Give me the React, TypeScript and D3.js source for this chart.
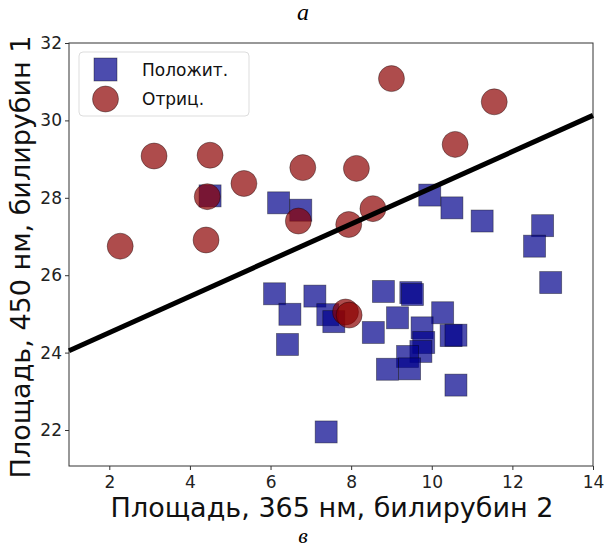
import React, { useEffect, useRef } from 'react';
import * as d3 from 'd3';

// Положит. (squares)
const positiveX = [4.5, 6.2, 6.75, 9.95, 10.5, 11.25, 12.75, 12.55, 12.95, 6.1, 7.1, 6.48, 7.42, 7.57, 6.42, 8.8, 9.48, 9.52, 9.15, 8.55, 10.27, 9.76, 9.8, 9.73, 9.4, 8.9, 9.45, 10.48, 10.6, 10.6, 7.38];
const positiveY = [28.05, 27.87, 27.68, 28.07, 27.74, 27.4, 27.28, 26.75, 25.81, 25.52, 25.46, 24.99, 24.98, 24.8, 24.21, 25.58, 25.55, 25.5, 24.9, 24.52, 25.03, 24.64, 24.26, 24.03, 23.9, 23.57, 23.58, 24.44, 24.45, 23.16, 21.95];

// Отриц. (circles)
const negativeX = [9.0, 11.55, 10.58, 3.11, 4.5, 6.8, 8.13, 5.34, 4.43, 8.54, 6.69, 7.94, 4.4, 2.27, 7.86, 7.95];
const negativeY = [31.08, 30.48, 29.38, 29.08, 29.1, 28.78, 28.76, 28.37, 28.03, 27.72, 27.4, 27.31, 26.91, 26.75, 25.05, 24.97];

// decision boundary endpoints
const lineX = [1, 14];
const lineY = [24.05, 30.13];

const xTicks = [2, 4, 6, 8, 10, 12, 14];
const yTicks = [22, 24, 26, 28, 30, 32];

const W = 606;
const H = 549;

const App = () => {
    const svgRef = useRef<SVGSVGElement>(null);

    useEffect(() => {
        const svg = d3.select(svgRef.current);
        svg.selectAll('*').remove();

        const margin = { top: 43, right: 13, bottom: 83, left: 69 };
        const font = 'DejaVu Sans, sans-serif';

        const x = d3.scaleLinear().domain([1, 14]).range([margin.left, W - margin.right]);
        const y = d3.scaleLinear().domain([21.07, 32]).range([H - margin.bottom, margin.top]);

        const blueFill = 'rgba(0,0,139,0.7)';
        const redFill = 'rgba(139,0,0,0.7)';
        const edge = 'rgba(0,0,0,0.45)';

        // frame
        svg.append('rect')
            .attr('x', margin.left).attr('y', margin.top)
            .attr('width', W - margin.right - margin.left)
            .attr('height', H - margin.bottom - margin.top)
            .attr('fill', 'white').attr('stroke', '#333').attr('stroke-width', 1);

        const xAxis = svg.append('g')
            .attr('transform', `translate(0,${H - margin.bottom})`)
            .call(d3.axisBottom(x).tickValues(xTicks).tickSize(4).tickPadding(6).tickSizeOuter(0));
        const yAxis = svg.append('g')
            .attr('transform', `translate(${margin.left},0)`)
            .call(d3.axisLeft(y).tickValues(yTicks).tickSize(4).tickPadding(3).tickSizeOuter(0));
        [xAxis, yAxis].forEach(g => {
            g.select('.domain').remove();
            g.selectAll('line').attr('stroke', '#333');
            g.selectAll('text').attr('font-family', font).attr('font-size', 17).attr('fill', '#222');
        });

        const n = positiveX.length;
        const sq = 22;
        svg.append('g')
            .selectAll('rect')
            .data(d3.range(n))
            .join('rect')
            .attr('x', i => x(positiveX[i]) - sq / 2)
            .attr('y', i => y(positiveY[i]) - sq / 2)
            .attr('width', sq).attr('height', sq)
            .attr('fill', blueFill).attr('stroke', edge).attr('stroke-width', 0.8);

        svg.append('g')
            .selectAll('circle')
            .data(d3.range(negativeX.length))
            .join('circle')
            .attr('cx', i => x(negativeX[i]))
            .attr('cy', i => y(negativeY[i]))
            .attr('r', 13)
            .attr('fill', redFill).attr('stroke', edge).attr('stroke-width', 0.8);

        const line = d3.line<number>().x(i => x(lineX[i])).y(i => y(lineY[i]));
        svg.append('path')
            .attr('d', line([0, 1]))
            .attr('stroke', 'black').attr('stroke-width', 5).attr('fill', 'none');

        // legend
        const lg = svg.append('g').attr('transform', 'translate(79,52)');
        lg.append('rect').attr('width', 170).attr('height', 64).attr('rx', 4)
            .attr('fill', 'white').attr('fill-opacity', 0.8).attr('stroke', '#ddd');
        lg.append('rect').attr('x', 15).attr('y', 6).attr('width', 23).attr('height', 23)
            .attr('fill', blueFill).attr('stroke', edge).attr('stroke-width', 0.8);
        lg.append('circle').attr('cx', 26.5).attr('cy', 47).attr('r', 13)
            .attr('fill', redFill).attr('stroke', edge).attr('stroke-width', 0.8);
        lg.append('text').attr('x', 63).attr('y', 24).text('Положит.')
            .attr('font-family', font).attr('font-size', 17).attr('fill', '#111');
        lg.append('text').attr('x', 63).attr('y', 53).text('Отриц.')
            .attr('font-family', font).attr('font-size', 17).attr('fill', '#111');

        // axis labels
        svg.append('text')
            .attr('x', 332)
            .attr('y', 517)
            .attr('text-anchor', 'middle')
            .attr('font-family', font).attr('font-size', 27).attr('fill', '#111')
            .text('Площадь, 365 нм, билирубин 2');
        svg.append('text')
            .attr('transform', `translate(30,${257}) rotate(-90)`)
            .attr('text-anchor', 'middle')
            .attr('font-family', font).attr('font-size', 27).attr('fill', '#111')
            .text('Площадь, 450 нм, билирубин 1');

        // panel letters
        svg.append('text').attr('x', 303).attr('y', 20).attr('text-anchor', 'middle')
            .attr('font-family', 'Liberation Serif, serif').attr('font-style', 'italic').attr('font-size', 24)
            .text('а');
        svg.append('text').attr('x', 303).attr('y', 543).attr('text-anchor', 'middle')
            .attr('font-family', 'Liberation Serif, serif').attr('font-style', 'italic').attr('font-size', 22)
            .text('в');
    }, []);

    return (
        <svg ref={svgRef} width={W} height={H}
            style={{ position: 'absolute', left: 0, top: 0, background: 'white' }} />
    );
};

export default App;
